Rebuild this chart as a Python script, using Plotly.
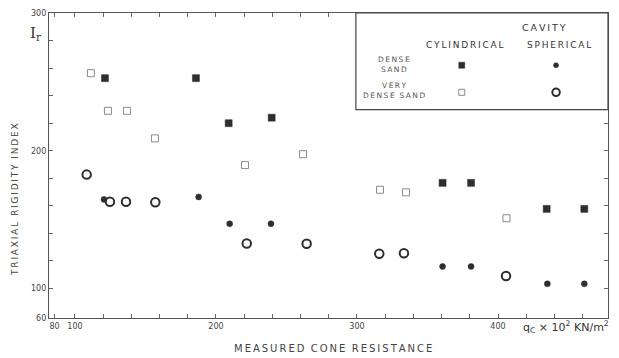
import plotly.graph_objects as go

# Data (qc x10^2 kN/m^2, triaxial rigidity index)
dense_cyl_x = [121.3, 185.8, 209.0, 239.5, 360.7, 380.9, 434.5, 461.2]
dense_cyl_y = [252.7, 252.7, 220.0, 224.0, 176.7, 176.7, 157.8, 157.8]

vdense_cyl_x = [111.3, 123.4, 136.9, 156.7, 220.6, 261.7, 316.3, 334.8, 406.0]
vdense_cyl_y = [256.3, 229.0, 229.0, 209.0, 189.6, 197.5, 171.7, 169.8, 151.0]

dense_sph_x = [120.6, 187.7, 209.7, 239.0, 360.7, 380.9, 435.0, 461.2]
dense_sph_y = [164.7, 166.5, 147.0, 147.0, 116.0, 116.0, 103.4, 103.4]

vdense_sph_x = [108.3, 124.8, 136.2, 157.0, 221.8, 264.3, 315.8, 333.3, 405.7]
vdense_sph_y = [182.7, 163.0, 163.0, 162.6, 132.7, 132.5, 125.3, 125.6, 109.1]

x_tick_vals = [85.5] + list(range(100, 461, 20))
x_tick_text = ["80" if v == 85.5 else (str(v) if v in (100, 200, 300, 400) else "") for v in x_tick_vals]
y_tick_vals = [78.6] + list(range(100, 301, 20))
y_tick_text = ["60" if v == 78.6 else (str(v) if v in (100, 200, 300) else "") for v in y_tick_vals]

INK = "#2e2e2e"
GRAY = "#8a8a8a"
FONT = "DejaVu Sans, sans-serif"
THIN = "\u2009"


def spaced(s):
    return THIN.join(list(s)).replace(THIN + " " + THIN, "  ")


fig = go.Figure()


def add(x, y, symbol, size, color, line_color, line_width, xa="x", ya="y"):
    fig.add_trace(go.Scatter(
        x=x, y=y, mode="markers", xaxis=xa, yaxis=ya, showlegend=False,
        marker=dict(symbol=symbol, size=size, color=color,
                    line=dict(color=line_color, width=line_width)),
        hoverinfo="skip"))


add(dense_cyl_x, dense_cyl_y, "square", 7, INK, INK, 0.5)
add(vdense_cyl_x, vdense_cyl_y, "square-open", 7, GRAY, GRAY, 1)
add(dense_sph_x, dense_sph_y, "circle", 6, INK, INK, 0.5)
add(vdense_sph_x, vdense_sph_y, "circle-open", 8.5, INK, INK, 2)

# legend markers on an auxiliary axis pair
leg_x = [0.42, 0.794]
leg_y = [0.46, 0.18]
add([leg_x[0]], [leg_y[0]], "square", 6, INK, INK, 0.5, "x2", "y2")
add([leg_x[1]], [leg_y[0]], "circle", 5, INK, INK, 0.5, "x2", "y2")
add([leg_x[0]], [leg_y[1]], "square-open", 6, GRAY, GRAY, 1, "x2", "y2")
add([leg_x[1]], [leg_y[1]], "circle-open", 7.5, INK, INK, 2, "x2", "y2")

axis_common = dict(showgrid=False, zeroline=False, showline=True, linecolor="#555",
                   linewidth=1.2, ticks="inside", ticklen=4, tickcolor="#666",
                   mirror="allticks", tickfont=dict(family=FONT, size=8, color="#444"))

fig.update_layout(
    width=619, height=358,
    margin=dict(l=49, r=11, t=9, b=40),
    paper_bgcolor="white", plot_bgcolor="white",
    xaxis=dict(range=[81.6, 478], tickmode="array", tickvals=x_tick_vals,
               ticktext=x_tick_text, **axis_common),
    yaxis=dict(range=[78.6, 300], tickmode="array", tickvals=y_tick_vals,
               ticktext=y_tick_text, **axis_common),
    xaxis2=dict(domain=[0.549, 1.0], range=[0, 1], visible=False, anchor="y2"),
    yaxis2=dict(domain=[0.683, 1.0], range=[0, 1], visible=False, anchor="x2"),
)

fig.add_shape(type="rect", xref="paper", yref="paper", x0=0.549, x1=1.0, y0=0.683, y1=1.0,
              line=dict(color="#444", width=1.2), fillcolor="rgba(0,0,0,0)")


def ann(text, x, y, size=9, angle=0, family=FONT, color="#333", xanchor="center"):
    fig.add_annotation(text=text, x=x, y=y, xref="paper", yref="paper", showarrow=False,
                       textangle=angle, xanchor=xanchor, yanchor="middle",
                       font=dict(family=family, size=size, color=color))


ann(spaced("CAVITY"), 0.885, 0.953, size=9.5)
ann(spaced("CYLINDRICAL"), 0.743, 0.895, size=9)
ann(spaced("SPHERICAL"), 0.913, 0.895, size=9)
ann(spaced("DENSE") + "<br>" + spaced("SAND"), 0.617, 0.83, size=7.5, color="#555")
ann(spaced("VERY") + "<br>" + spaced("DENSE SAND"), 0.617, 0.745, size=7.5, color="#555")
ann("I<sub>r</sub>", -0.023, 0.932, size=15, family="DejaVu Serif, serif", color="#333")
ann("q<sub>C</sub> × 10<sup>2</sup> KN/m<sup>2</sup>", 0.925, -0.03, size=11, color="#333")
ann(spaced("TRIAXIAL RIGIDITY INDEX"), -0.061, 0.39, size=9, angle=-90, color="#444")
ann(spaced("MEASURED CONE RESISTANCE"), 0.508, -0.1, size=10, color="#444")

fig.write_html("out.html", post_script="document.body.style.margin='0';",
               config={"displayModeBar": False})
